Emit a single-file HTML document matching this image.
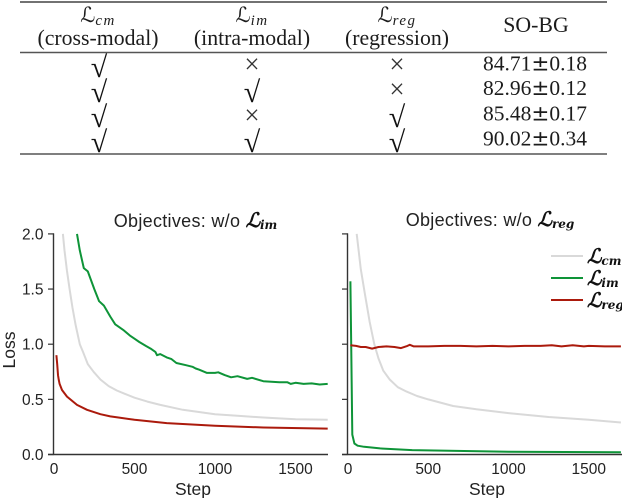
<!DOCTYPE html>
<html lang="en">
<head>
<meta charset="utf-8">
<title>Objectives table and loss curves</title>
<style>
html,body{margin:0;padding:0;background:#fff;width:622px;height:498px;overflow:hidden}
svg{display:block}
.tbl{font-family:"Liberation Serif",serif;font-size:21.8px;fill:#1c1c1c;text-anchor:middle}
.pm{font-family:"DejaVu Sans",sans-serif;font-size:21.5px}
.num{font-family:"Liberation Serif",serif;font-size:21.5px;fill:#1c1c1c;text-anchor:middle}
.math{font-family:"DejaVu Sans",serif;font-style:italic;font-size:21px;fill:#1c1c1c;text-anchor:middle}
.sub{font-family:"Liberation Serif",serif;font-style:italic;font-size:15px;letter-spacing:1.5px}
.mark{font-family:"Liberation Serif",serif;font-size:30px;fill:#111;text-anchor:middle}
.cross{font-family:"Liberation Serif",serif;font-size:27px;fill:#333;text-anchor:middle}
.tick{font-family:"Liberation Sans",sans-serif;font-size:15.5px;fill:#222}
.title{font-family:"Liberation Sans",sans-serif;font-size:18px;letter-spacing:.3px;fill:#222;text-anchor:middle}
.axt{font-family:"Liberation Sans",sans-serif;font-size:17.5px;fill:#222;text-anchor:middle}
.lm{font-family:"DejaVu Serif",serif;font-weight:bold;font-style:italic;fill:#111;letter-spacing:0}
</style>
</head>
<body>
<svg id="fig" xmlns="http://www.w3.org/2000/svg" width="622" height="498" viewBox="0 0 622 498">
  <g>
    <line x1="20" x2="607" y1="2" y2="2" stroke="#444" stroke-width="1.4"/>
    <line x1="20" x2="607" y1="52.5" y2="52.5" stroke="#555" stroke-width="1.4"/>
    <line x1="20" x2="607" y1="154" y2="154" stroke="#555" stroke-width="1.4"/>

    <text class="math" x="98" y="22">ℒ<tspan class="sub" dy="3">cm</tspan></text>
    <text class="tbl" x="98" y="45">(cross-modal)</text>
    <text class="math" x="252" y="22">ℒ<tspan class="sub" dy="3">im</tspan></text>
    <text class="tbl" x="252" y="45">(intra-modal)</text>
    <text class="math" x="397" y="22">ℒ<tspan class="sub" dy="3">reg</tspan></text>
    <text class="tbl" x="397" y="45">(regression)</text>
    <text class="tbl" x="536" y="32">SO-BG</text>

    <text class="mark" x="99" y="77">√</text>
    <text class="cross" x="252" y="73">×</text>
    <text class="cross" x="397" y="73">×</text>
    <text class="num" x="535" y="70.5">84.71<tspan class="pm">±</tspan>0.18</text>

    <text class="mark" x="99" y="102">√</text>
    <text class="mark" x="252" y="102">√</text>
    <text class="cross" x="397" y="98">×</text>
    <text class="num" x="535" y="95">82.96<tspan class="pm">±</tspan>0.12</text>

    <text class="mark" x="99" y="127">√</text>
    <text class="cross" x="252" y="124">×</text>
    <text class="mark" x="397" y="127">√</text>
    <text class="num" x="535" y="120.5">85.48<tspan class="pm">±</tspan>0.17</text>

    <text class="mark" x="99" y="152">√</text>
    <text class="mark" x="252" y="152">√</text>
    <text class="mark" x="397" y="152">√</text>
    <text class="num" x="535" y="145.5">90.02<tspan class="pm">±</tspan>0.34</text>
  </g>

  <text class="title" x="195.5" y="227">Objectives: w/o <tspan class="lm" font-size="20">ℒ</tspan><tspan class="lm" font-size="12" dy="2">im</tspan></text>
  <text class="title" x="490" y="226">Objectives: w/o <tspan class="lm" font-size="20">ℒ</tspan><tspan class="lm" font-size="12" dy="2">reg</tspan></text>
  <text class="axt" transform="translate(15,350) rotate(-90)" x="0" y="0">Loss</text>
  <text class="axt" x="193" y="495">Step</text>
  <text class="axt" x="487" y="495">Step</text>

  <g id="charts"></g>

  <g>
    <line x1="551" x2="583" y1="256" y2="256" stroke="#d9d9d9" stroke-width="2"/>
    <text class="lm" x="587" y="263" font-size="20">ℒ<tspan font-size="12" dy="2">cm</tspan></text>
    <line x1="551" x2="583" y1="278" y2="278" stroke="#0e9438" stroke-width="2"/>
    <text class="lm" x="587" y="285" font-size="20">ℒ<tspan font-size="12" dy="2">im</tspan></text>
    <line x1="551" x2="583" y1="300" y2="300" stroke="#ab1a0c" stroke-width="2"/>
    <text class="lm" x="587" y="307" font-size="20">ℒ<tspan font-size="12" dy="2">reg</tspan></text>
  </g>
</svg>
<script>
// Left panel (w/o L_im): [step, loss] readings
const leftCmSteps = [55, 65, 80, 97, 115, 135, 160, 180, 210, 246, 288, 340, 390, 440, 500, 580, 660, 800, 1000, 1150, 1300, 1500, 1700];
const leftCmLoss = [2.0, 1.85, 1.67, 1.5, 1.33, 1.17, 1.0, 0.93, 0.82, 0.75, 0.68, 0.62, 0.58, 0.55, 0.515, 0.48, 0.45, 0.405, 0.365, 0.35, 0.335, 0.32, 0.315];
const leftImSteps = [143, 160, 185, 210, 250, 280, 310, 350, 380, 430, 470, 500, 530, 570, 600, 630, 640, 660, 700, 730, 760, 820, 860, 880, 900, 950, 1000, 1020, 1060, 1100, 1140, 1200, 1230, 1300, 1350, 1400, 1450, 1470, 1500, 1550, 1600, 1650, 1700];
const leftImLoss = [2.0, 1.85, 1.69, 1.66, 1.5, 1.39, 1.35, 1.25, 1.18, 1.13, 1.08, 1.05, 1.02, 0.985, 0.96, 0.93, 0.9, 0.91, 0.88, 0.865, 0.83, 0.81, 0.795, 0.78, 0.77, 0.74, 0.74, 0.745, 0.72, 0.7, 0.71, 0.685, 0.695, 0.665, 0.66, 0.655, 0.655, 0.64, 0.65, 0.64, 0.645, 0.635, 0.64];
const leftRegSteps = [15, 20, 25, 29, 35, 50, 81, 143, 205, 288, 350, 400, 500, 700, 1000, 1300, 1700];
const leftRegLoss = [0.9, 0.82, 0.72, 0.68, 0.64, 0.585, 0.525, 0.45, 0.405, 0.365, 0.345, 0.335, 0.315, 0.285, 0.26, 0.245, 0.235];

// Right panel (w/o L_reg)
const rightCmSteps = [54, 80, 106, 135, 164, 190, 220, 260, 310, 365, 430, 500, 655, 800, 1000, 1250, 1500, 1700];
const rightCmLoss = [2.0, 1.68, 1.45, 1.2, 1.0, 0.87, 0.76, 0.68, 0.61, 0.57, 0.53, 0.5, 0.44, 0.41, 0.375, 0.34, 0.315, 0.29];
const rightImSteps = [15, 20, 27, 40, 60, 100, 200, 400, 1000, 1700];
const rightImLoss = [1.57, 1.0, 0.18, 0.1, 0.08, 0.07, 0.055, 0.04, 0.025, 0.02];
const rightRegSteps = [15, 50, 80, 110, 150, 190, 240, 290, 330, 370, 385, 410, 500, 600, 700, 800, 900, 1000, 1100, 1200, 1270, 1330, 1400, 1470, 1500, 1600, 1700];
const rightRegLoss = [0.99, 0.985, 0.975, 0.975, 0.96, 0.975, 0.98, 0.975, 0.965, 0.985, 0.995, 0.98, 0.98, 0.985, 0.985, 0.98, 0.985, 0.98, 0.985, 0.985, 0.99, 0.98, 0.99, 0.98, 0.985, 0.98, 0.98];

const xTickValues = [0, 500, 1000, 1500];
const yTickValues = [0, 0.5, 1, 1.5, 2];

const NS = 'http://www.w3.org/2000/svg';
const root = document.getElementById('charts');

function yScale(v) { return 454.5 - v * 110.3; }

function drawPanel(prefix, x0, pxPerStep, xEnd, showYLabels, series) {
  function xScale(s) { return x0 + s * pxPerStep; }
  const g = document.createElementNS(NS, 'g');
  
  
  root.appendChild(g);

  series.forEach(function (sr) {
    const path = document.createElementNS(NS, 'polyline');
    
    
    const pts = sr.steps.map(function (s, i) { return xScale(s).toFixed(1) + ',' + yScale(sr.loss[i]).toFixed(1); });
    path.setAttribute('points', pts.join(' '));
    path.setAttribute('fill', 'none');
    path.setAttribute('stroke', sr.color);
    path.setAttribute('stroke-width', '2');
    path.setAttribute('stroke-linejoin', 'round');
    g.appendChild(path);
  });

  const yAxis = document.createElementNS(NS, 'line');
  
  
  yAxis.setAttribute('x1', x0 - 0.5);
  yAxis.setAttribute('x2', x0 - 0.5);
  yAxis.setAttribute('y1', yScale(2) - 0.5);
  yAxis.setAttribute('y2', yScale(0) + 0.5);
  yAxis.setAttribute('stroke', '#333');
  yAxis.setAttribute('stroke-width', '1.4');
  g.appendChild(yAxis);

  const xAxis = document.createElementNS(NS, 'line');
  
  
  xAxis.setAttribute('x1', x0 - 6);
  xAxis.setAttribute('x2', xEnd);
  xAxis.setAttribute('y1', yScale(0));
  xAxis.setAttribute('y2', yScale(0));
  xAxis.setAttribute('stroke', '#333');
  xAxis.setAttribute('stroke-width', '1.4');
  g.appendChild(xAxis);

  yTickValues.forEach(function (v) {
    const t = document.createElementNS(NS, 'line');
    
    
    t.setAttribute('x1', x0 - 6);
    t.setAttribute('x2', x0);
    t.setAttribute('y1', yScale(v));
    t.setAttribute('y2', yScale(v));
    t.setAttribute('stroke', '#333');
    t.setAttribute('stroke-width', '1.2');
    g.appendChild(t);
    if (showYLabels) {
      const l = document.createElementNS(NS, 'text');
      
      
      l.setAttribute('class', 'tick');
      l.setAttribute('x', x0 - 10.5);
      l.setAttribute('y', yScale(v) + 5.5);
      l.setAttribute('text-anchor', 'end');
      l.textContent = v.toFixed(1);
      g.appendChild(l);
    }
  });

  xTickValues.forEach(function (v) {
    const l = document.createElementNS(NS, 'text');
    
    
    l.setAttribute('class', 'tick');
    l.setAttribute('x', xScale(v));
    l.setAttribute('y', 474);
    l.setAttribute('text-anchor', 'middle');
    l.textContent = String(v);
    g.appendChild(l);
  });
}

drawPanel('left', 54, 0.161, 328, true, [
  { name: 'cm', steps: leftCmSteps, loss: leftCmLoss, color: '#d9d9d9' },
  { name: 'im', steps: leftImSteps, loss: leftImLoss, color: '#0e9438' },
  { name: 'reg', steps: leftRegSteps, loss: leftRegLoss, color: '#ab1a0c' }
]);
drawPanel('right', 348, 0.1605, 622, false, [
  { name: 'cm', steps: rightCmSteps, loss: rightCmLoss, color: '#d9d9d9' },
  { name: 'im', steps: rightImSteps, loss: rightImLoss, color: '#0e9438' },
  { name: 'reg', steps: rightRegSteps, loss: rightRegLoss, color: '#ab1a0c' }
]);
</script>
</body>
</html>
